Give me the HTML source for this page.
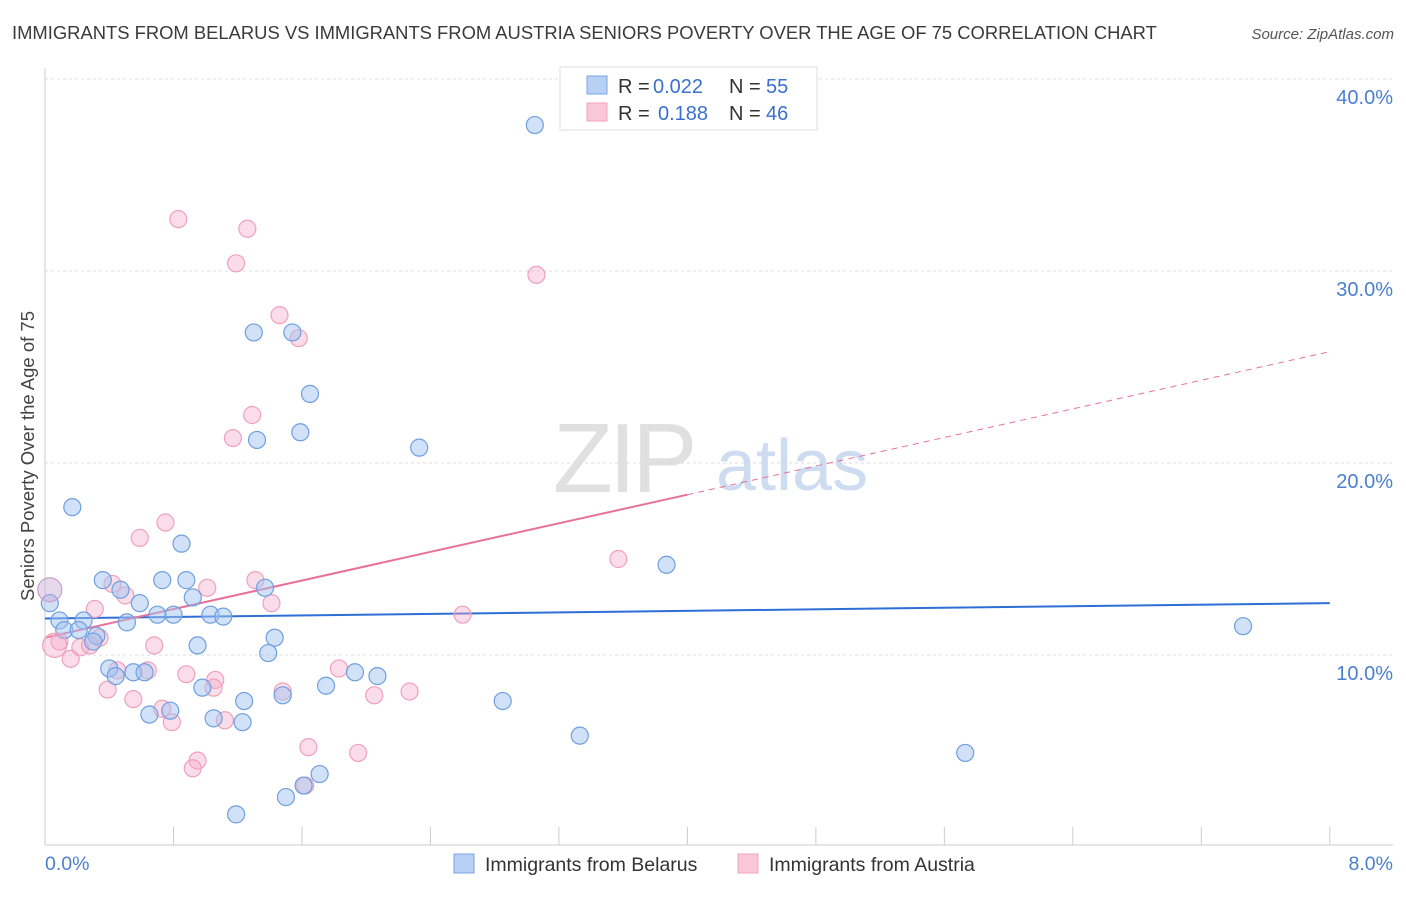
<!DOCTYPE html>
<html><head><meta charset="utf-8"><style>
body{margin:0;background:#fff;font-family:"Liberation Sans",sans-serif;}
svg text{font-family:"Liberation Sans",sans-serif;}
</style></head><body>
<svg width="1406" height="892" viewBox="0 0 1406 892" xmlns="http://www.w3.org/2000/svg">
<text x="12" y="39" font-size="18.4" fill="#3a3a3a">IMMIGRANTS FROM BELARUS VS IMMIGRANTS FROM AUSTRIA SENIORS POVERTY OVER THE AGE OF 75 CORRELATION CHART</text>
<text x="1394" y="39" font-size="15" fill="#555" font-style="italic" text-anchor="end">Source: ZipAtlas.com</text>
<g>
<text x="553" y="492" font-size="98" fill="#e0e0e0" font-family="Liberation Serif" letter-spacing="-4">ZIP</text>
<text x="716" y="490" font-size="72" fill="#cddcf0">atlas</text>
</g>
<g id="grid"></g>
<g id="axes"></g>
<g id="trend"></g>
<g id="points"></g>
<text transform="translate(34,456) rotate(-90)" font-size="18.5" fill="#444" text-anchor="middle">Seniors Poverty Over the Age of 75</text>
<text x="45" y="870" font-size="19.5" fill="#4a7fd0">0.0%</text>
<text x="1393" y="870" font-size="19.5" fill="#4a7fd0" text-anchor="end">8.0%</text>
<g>
<rect x="560" y="67" width="257" height="63" fill="#fff" stroke="#ddd"/>
<rect x="587" y="76" width="20" height="18" fill="#b8d0f4" stroke="#7aa6e4"/>
<rect x="587" y="103" width="20" height="18" fill="#f8c8d8" stroke="#f0a0bd"/>
<text x="618" y="93" font-size="20" fill="#333">R =</text>
<text x="653" y="93" font-size="20" fill="#3a70d0">0.022</text>
<text x="729" y="93" font-size="20" fill="#333">N =</text>
<text x="766" y="93" font-size="20" fill="#3a70d0">55</text>
<text x="618" y="120" font-size="20" fill="#333">R =</text>
<text x="658" y="120" font-size="20" fill="#3a70d0">0.188</text>
<text x="729" y="120" font-size="20" fill="#333">N =</text>
<text x="766" y="120" font-size="20" fill="#3a70d0">46</text>
</g>
<g>
<rect x="454" y="854" width="20" height="19" fill="#b8d0f4" stroke="#7aa6e4"/>
<text x="485" y="871" font-size="19.5" fill="#333">Immigrants from Belarus</text>
<rect x="738" y="854" width="20" height="19" fill="#f8c8d8" stroke="#f0a0bd"/>
<text x="769" y="871" font-size="19.5" fill="#333">Immigrants from Austria</text>
</g>
</svg>
<script>
const yTicks=[10,20,30,40];
const yTickLabels=["10.0%","20.0%","30.0%","40.0%"];
const blueX=[3.05,1.30,1.54,1.65,1.59,1.32,2.33,0.17,0.85,3.87,0.36,0.73,0.88,0.47,1.37,0.92,0.59,0.03,0.70,0.80,1.03,1.11,0.09,0.24,0.51,0.12,0.21,0.32,1.43,0.30,0.95,1.39,7.46,0.40,0.55,0.62,0.44,1.93,2.07,0.98,1.75,1.48,1.24,2.85,0.65,0.78,1.05,1.23,3.33,5.73,1.71,1.61,1.50,1.19];
const blueY=[37.6,26.8,26.8,23.6,21.6,21.2,20.8,17.7,15.8,14.7,13.9,13.9,13.9,13.4,13.5,13.0,12.7,12.7,12.1,12.1,12.1,12.0,11.8,11.8,11.7,11.3,11.3,11.0,10.9,10.7,10.5,10.1,11.5,9.3,9.1,9.1,8.9,9.1,8.9,8.3,8.4,7.9,7.6,7.6,6.9,7.1,6.7,6.5,5.8,4.9,3.8,3.2,2.6,1.7];
const pinkX=[0.83,1.26,1.19,3.06,1.46,1.58,1.29,1.17,0.75,0.59,3.57,0.42,1.31,1.01,0.50,1.41,0.31,2.60,0.09,0.16,0.22,0.34,0.28,0.68,0.45,0.64,0.88,1.06,1.83,1.05,0.39,1.48,2.27,2.05,0.55,0.73,0.79,1.12,1.64,1.95,0.95,0.92,1.62];
const pinkY=[32.7,32.2,30.4,29.8,27.7,26.5,22.5,21.3,16.9,16.1,15.0,13.7,13.9,13.5,13.1,12.7,12.4,12.1,10.7,9.8,10.4,10.9,10.5,10.5,9.2,9.2,9.0,8.7,9.3,8.3,8.2,8.1,8.1,7.9,7.7,7.2,6.5,6.6,5.2,4.9,4.5,4.1,3.2];
const bigX=[0.03,0.06];const bigY=[13.4,10.5];
const blueTrend=[11.9,12.7];
const pinkTrend=[10.9,25.8];
const xs=v=>45+v*160.6, ys=v=>847-v*19.2;
const NS="http://www.w3.org/2000/svg";
function mk(parent,tag,attrs){const e=document.createElementNS(NS,tag);for(const k in attrs)e.setAttribute(k,attrs[k]);document.getElementById(parent).appendChild(e);return e;}
yTicks.forEach((t,i)=>{
 let l=mk('grid','line',{x1:45,x2:1393,y1:ys(t),y2:ys(t),stroke:'#ddd','stroke-dasharray':'3,3'});
 
 
 let tx=mk('grid','text',{x:1393,y:ys(t)+25,'font-size':20,fill:'#4a7fd0','text-anchor':'end'});
 tx.textContent=yTickLabels[i];
 
 
});
let ax=mk('axes','line',{x1:45,x2:45,y1:68,y2:845,stroke:'#ccc'});


let bx=mk('axes','line',{x1:45,x2:1393,y1:845,y2:845,stroke:'#ccc'});


for(let i=0;i<=10;i++){let t=mk('axes','line',{x1:xs(i*0.8),x2:xs(i*0.8),y1:827,y2:845,stroke:'#ccc'});
 
 }
let bl=mk('trend','line',{x1:xs(0),y1:ys(blueTrend[0]),x2:xs(8),y2:ys(blueTrend[1]),stroke:'#2d6fd6','stroke-width':2});


const pm=v=>pinkTrend[0]+(pinkTrend[1]-pinkTrend[0])*v/8;
let ps=mk('trend','line',{x1:xs(0),y1:ys(pm(0)),x2:xs(4),y2:ys(pm(4)),stroke:'#e8709a','stroke-width':2});


let pd=mk('trend','line',{x1:xs(4),y1:ys(pm(4)),x2:xs(8),y2:ys(pm(8)),stroke:'#e8709a','stroke-width':1,'stroke-dasharray':'6,5'});


pinkX.forEach((x,i)=>{let c=mk('points','circle',{cx:xs(x),cy:ys(pinkY[i]),r:8.5,fill:'rgba(246,170,200,0.4)',stroke:'#f0a0bd','stroke-width':1.2});
 
 });
blueX.forEach((x,i)=>{let c=mk('points','circle',{cx:xs(x),cy:ys(blueY[i]),r:8.5,fill:'rgba(164,196,240,0.5)',stroke:'#6f9fe0','stroke-width':1.2});
 
 });
bigX.forEach((x,i)=>{let c=mk('points','circle',{cx:xs(x),cy:ys(bigY[i]),r:12,fill:i?'rgba(246,170,200,0.4)':'rgba(200,170,210,0.45)',stroke:i?'#f0a0bd':'#c9a0c8','stroke-width':1.2});
 
 });
</script>
</body></html>
